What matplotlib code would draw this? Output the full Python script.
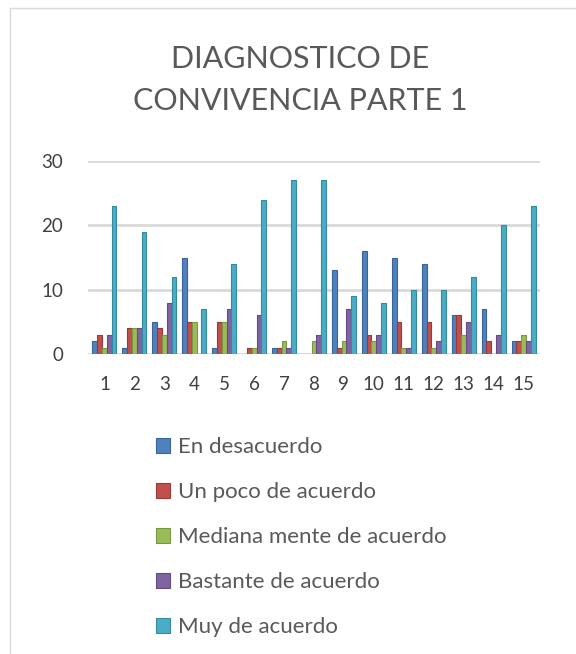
import numpy as np
import matplotlib.pyplot as plt
from matplotlib.patches import Rectangle

plt.rcParams['font.family'] = ['Lato', 'DejaVu Sans']

# Datos
preguntas = [str(i) for i in range(1, 16)]
series = ['En desacuerdo', 'Un poco de acuerdo', 'Mediana mente de acuerdo',
          'Bastante de acuerdo', 'Muy de acuerdo']
en_desacuerdo = [2, 1, 5, 15, 1, 0, 1, 0, 13, 16, 15, 14, 6, 7, 2]
un_poco = [3, 4, 4, 5, 5, 1, 1, 0, 1, 3, 5, 5, 6, 2, 2]
mediana_mente = [1, 4, 3, 5, 5, 1, 2, 2, 2, 2, 1, 1, 3, 0, 3]
bastante = [3, 4, 8, 0, 7, 6, 1, 3, 7, 3, 1, 2, 5, 3, 2]
muy_de_acuerdo = [23, 19, 12, 7, 14, 24, 27, 27, 9, 8, 10, 10, 12, 20, 23]
colores = ['#4F81BD', '#C0504D', '#9BBB59', '#8064A2', '#4BACC6']
bordes = ['#3A659A', '#9A3A38', '#7A9844', '#634C82', '#3589A0']

valores = [en_desacuerdo, un_poco, mediana_mente, bastante, muy_de_acuerdo]

fig = plt.figure(figsize=(5.76, 6.54), dpi=100)
fig.patches.append(Rectangle((10 / 576, -0.01), 1.0, 1 - 8 / 654 + 0.01,
                             transform=fig.transFigure, fill=False,
                             edgecolor='#D9D9D9', linewidth=1))

ax = fig.add_axes([88 / 576, 1 - 354 / 654, 452 / 576, 193 / 654])
x = np.arange(len(preguntas))
ancho = 0.16
for i, (v, c, b) in enumerate(zip(valores, colores, bordes)):
    ax.bar(x + (i - 2) * ancho, v, ancho, color=c, edgecolor=b,
           linewidth=0.8, label=series[i], zorder=3)

ax.set_ylim(0, 30)
ax.set_xlim(-0.55, 14.55)
ax.set_yticks([0, 10, 20, 30])
ax.set_xticks(x)
ax.set_xticklabels(preguntas)
ax.tick_params(length=0, labelsize=13.5, labelcolor='#404040')
ax.tick_params(axis='x', pad=16)
ax.tick_params(axis='y', pad=18)
ax.grid(axis='y', color='#D9D9D9', linewidth=2, zorder=0)
for s in ax.spines.values():
    s.set_visible(False)

fig.text(300 / 576, 1 - 80 / 654, 'DIAGNOSTICO DE\nCONVIVENCIA PARTE 1',
         ha='center', va='center', fontsize=22, color='#595959',
         linespacing=1.65)

fig.legend(loc='upper left', bbox_to_anchor=(136 / 576, 1 - 417 / 654),
           frameon=False, fontsize=16, labelcolor='#595959',
           handlelength=0.65, handleheight=0.65, handletextpad=0.35,
           labelspacing=1.13)

fig.savefig('out.png', dpi=100)
